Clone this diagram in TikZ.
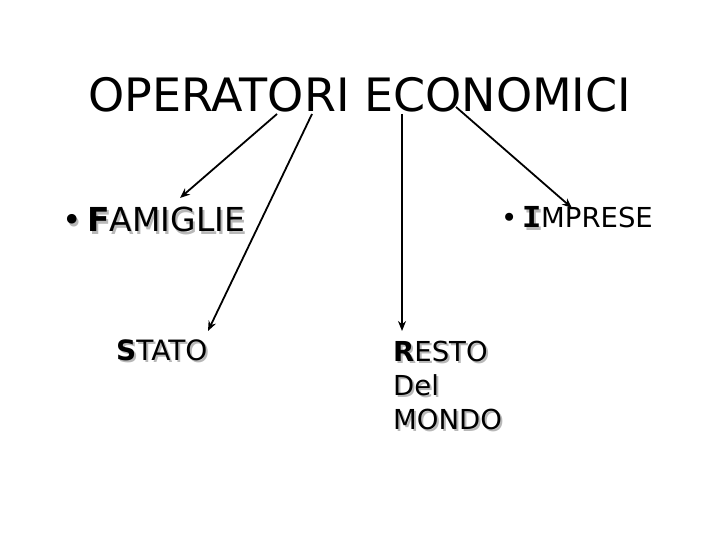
\documentclass[tikz,border=0pt]{standalone}
\usepackage{fontspec}
\setmainfont{DejaVu Sans}
\newfontfamily\monobf{Liberation Mono}
\usetikzlibrary{arrows.meta,calc}
\tikzset{
  txt/.style={anchor=base west, inner sep=0pt, text=black},
  shad/.style={anchor=base west, inner sep=0pt, text=black!28},
  arr/.style={draw=black, line width=1.8pt, -{Stealth[length=10pt,width=8pt]}}
}
\newcommand{\shtext}[3]{%
  \node[shad] at ($(#2)+(2,2)$) {#3};
  \node[txt] (#1) at (#2) {#3};}
\begin{document}
\begin{tikzpicture}[x=1pt,y=-1pt]
\useasboundingbox (0,0) rectangle (720,540);
\fill[white] (0,0) rectangle (720,540);
\node[inner sep=0pt, anchor=base, font=\fontsize{46}{50}\selectfont] (title) at (360,112) {OPERATORI ECONOMICI};
\shtext{fam}{62,232}{\fontsize{33}{36}\selectfont •\,\textbf{F}AMIGLIE}
\node[shad] at (503,230) {\fontsize{27.5}{32}\selectfont \phantom{•\,}{\fontsize{32}{32}\monobf\bfseries I}\phantom{MPRESE}};
\node[txt] (imp) at (501,228) {\fontsize{27.5}{32}\selectfont •\,{\fontsize{32}{32}\monobf\bfseries I}MPRESE};
\shtext{stato}{116,360}{\fontsize{28}{30}\selectfont \textbf{S}TATO}
\shtext{resto}{393,361}{\fontsize{27.5}{34}\selectfont \textbf{R}ESTO}
\shtext{del}{393,395}{\fontsize{27.5}{34}\selectfont Del}
\shtext{mondo}{393,429}{\fontsize{27.5}{34}\selectfont MONDO}
\coordinate (s1) at (277,114);
\coordinate (e1) at (180,198);
\coordinate (s2) at (312,114);
\coordinate (e2) at (208,331);
\coordinate (s3) at (402,114);
\coordinate (e3) at (402,331);
\coordinate (s4) at (456,107);
\coordinate (e4) at (572,208);
\draw[arr] (s1) -- (e1);
\draw[arr] (s2) -- (e2);
\draw[arr] (s3) -- (e3);
\draw[arr] (s4) -- (e4);
\end{tikzpicture}
\end{document}
